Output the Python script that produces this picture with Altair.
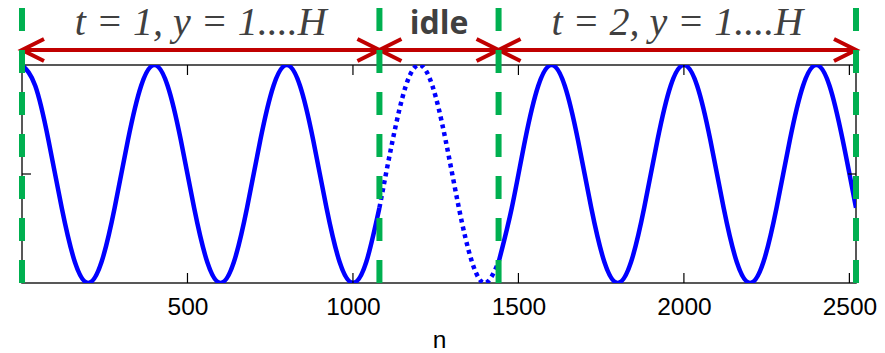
import altair as alt
import pandas as pd

# Signal samples (every 40 samples of n) for the first active block, the idle gap
# and the second active block.
n_first = [0, 40, 80, 120, 160, 200, 240, 280, 320, 360,
           400, 440, 480, 520, 560, 600, 640, 680, 720, 760,
           800, 840, 880, 920, 960, 1000, 1040, 1080]
y_first = [1.0, 0.81, 0.31, -0.31, -0.81, -1.0, -0.81, -0.31, 0.31, 0.81,
           1.0, 0.81, 0.31, -0.31, -0.81, -1.0, -0.81, -0.31, 0.31, 0.81,
           1.0, 0.81, 0.31, -0.31, -0.81, -1.0, -0.81, -0.31]

n_idle = [1080, 1120, 1160, 1200, 1240, 1280, 1320, 1360, 1400, 1440]
y_idle = [-0.31, 0.31, 0.81, 1.0, 0.81, 0.31, -0.31, -0.81, -1.0, -0.81]

n_second = [1440, 1480, 1520, 1560, 1600, 1640, 1680, 1720, 1760, 1800,
            1840, 1880, 1920, 1960, 2000, 2040, 2080, 2120, 2160, 2200,
            2240, 2280, 2320, 2360, 2400, 2440, 2480, 2520]
y_second = [-0.81, -0.31, 0.31, 0.81, 1.0, 0.81, 0.31, -0.31, -0.81, -1.0,
            -0.81, -0.31, 0.31, 0.81, 1.0, 0.81, 0.31, -0.31, -0.81, -1.0,
            -0.81, -0.31, 0.31, 0.81, 1.0, 0.81, 0.31, -0.31]

# Block boundaries and their captions
boundaries = [0, 1080, 1440, 2520]
phase_labels = ["t = 1, y = 1....H", "idle", "t = 2, y = 1....H"]

x_ticks = [500, 1000, 1500, 2000, 2500]

# ---- layout (pixels) ----
W, H = 834, 218
LEFT, TOP = 22, 65

RED = "#C00000"
GREEN = "#00B050"
BLUE = "#0000FF"
TEXT = "#404040"

active = pd.DataFrame({
    "n": n_first + n_second,
    "y": y_first + y_second,
    "part": ["first"] * len(n_first) + ["second"] * len(n_second),
})
idle = pd.DataFrame({"n": n_idle, "y": y_idle})
segments = pd.DataFrame({
    "start": boundaries[:-1],
    "end": boundaries[1:],
    "label": phase_labels,
})
segments["mid"] = (segments["start"] + segments["end"]) / 2
bounds = pd.DataFrame({"n": boundaries})
ticks = pd.DataFrame({"n": x_ticks})

x_scale = alt.Scale(domain=[0, 2520], nice=False, zero=False)
y_scale = alt.Scale(domain=[-1, 1], nice=False, zero=False)

x_axis = alt.Axis(
    values=x_ticks, format="d", ticks=False, tickSize=0, domain=False, grid=False,
    labelFont="Liberation Sans", labelFontSize=24.5, labelColor="black",
    labelPadding=12, labelFlush=False,
    title="n", titleFont="Liberation Sans", titleFontSize=24.5,
    titleFontWeight="normal", titleColor="black", titlePadding=10,
)

signal = alt.Chart(active).mark_line(
    color=BLUE, strokeWidth=4.5, interpolate="natural", clip=True
).encode(
    x=alt.X("n:Q", scale=x_scale, axis=x_axis),
    y=alt.Y("y:Q", scale=y_scale, axis=None),
    detail="part:N",
)

idle_signal = alt.Chart(idle).mark_line(
    color=BLUE, strokeWidth=4.5, strokeDash=[4, 4], interpolate="natural", clip=True
).encode(x="n:Q", y="y:Q")

# inward-pointing ticks on all four sides of the box
tick_style = dict(color="black", strokeWidth=1.2)
bottom_ticks = alt.Chart(ticks).mark_rule(**tick_style).encode(
    x="n:Q", y=alt.value(H), y2=alt.value(H - 10))
top_ticks = alt.Chart(ticks).mark_rule(**tick_style).encode(
    x="n:Q", y=alt.value(0), y2=alt.value(10))
zero_line = pd.DataFrame({"y": [0]})
left_tick = alt.Chart(zero_line).mark_rule(**tick_style).encode(
    y="y:Q", x=alt.value(0), x2=alt.value(9))
right_tick = alt.Chart(zero_line).mark_rule(**tick_style).encode(
    y="y:Q", x=alt.value(W - 8), x2=alt.value(W))

# dashed block separators
separators = alt.Chart(bounds).mark_rule(
    color=GREEN, strokeWidth=6, strokeDash=[23, 19]
).encode(x="n:Q", y=alt.value(8 - TOP), y2=alt.value(H))

# double-headed span arrows
ARROW_Y = 50 - TOP
shafts = alt.Chart(segments).mark_rule(color=RED, strokeWidth=4).encode(
    x="start:Q", x2="end:Q", y=alt.value(ARROW_Y))
head_style = dict(size=484, filled=False, color=RED, strokeWidth=4, opacity=1,
                  strokeCap="butt", strokeJoin="miter")
left_heads = alt.Chart(segments).mark_point(shape="M2,-1L0,0L2,1", **head_style).encode(
    x="start:Q", y=alt.value(ARROW_Y))
right_heads = alt.Chart(segments).mark_point(shape="M-2,-1L0,0L-2,1", **head_style).encode(
    x="end:Q", y=alt.value(ARROW_Y))

block_text = alt.Chart(segments[segments["label"] != "idle"]).mark_text(
    font="Liberation Serif", fontStyle="italic", fontSize=40, color=TEXT,
    baseline="alphabetic", align="center"
).encode(x="mid:Q", y=alt.value(35 - TOP), text="label:N")

idle_text = alt.Chart(segments[segments["label"] == "idle"]).mark_text(
    font="Open Sans", fontWeight="bold", fontSize=32, color=TEXT,
    baseline="alphabetic", align="center"
).encode(x="mid:Q", y=alt.value(34 - TOP), text="label:N")

chart = alt.layer(
    signal, idle_signal, bottom_ticks, top_ticks, left_tick, right_tick,
    shafts, left_heads, right_heads, separators, block_text, idle_text,
).properties(
    width=W, height=H,
    padding={"left": LEFT, "top": TOP, "right": 885 - LEFT - W, "bottom": 353 - TOP - H},
    autosize=alt.AutoSizeParams(type="none"),
    background="white",
).configure_view(stroke="#222222", strokeWidth=1.5)

chart.save("out.html", embed_options={"renderer": "svg", "actions": False})
